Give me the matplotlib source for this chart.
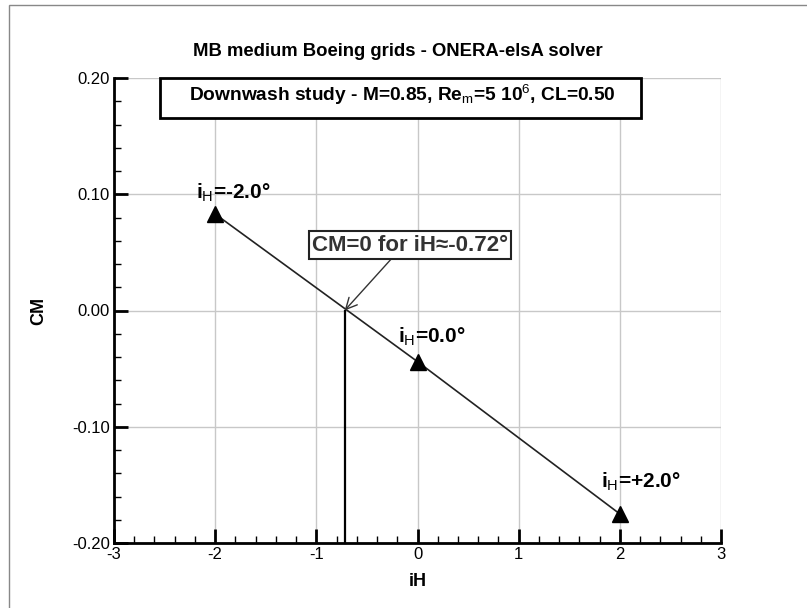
import matplotlib
matplotlib.use("Agg")
import matplotlib.pyplot as plt
from matplotlib.patches import Rectangle
from matplotlib.ticker import MultipleLocator, FormatStrFormatter

plt.rcParams['font.family'] = ['Liberation Sans', 'DejaVu Sans']
plt.rcParams['mathtext.fontset'] = 'custom'
plt.rcParams['mathtext.rm'] = 'Liberation Sans'
plt.rcParams['mathtext.bf'] = 'Liberation Sans:bold'
plt.rcParams['mathtext.it'] = 'Liberation Sans:italic'

# data
iH = [-2.0, 0.0, 2.0]
CM = [0.083, -0.044, -0.175]
iH_zero = -0.72
point_labels = ["i$_{\\rm H}$=-2.0°", "i$_{\\rm H}$=0.0°", "i$_{\\rm H}$=+2.0°"]
label_pos = [(-2.19, 0.0959), (-0.193, -0.028), (1.814, -0.1527)]

title = "MB medium Boeing grids - ONERA-elsA solver"
subtitle = "Downwash study - M=0.85, Re$_{\\rm m}$=5 10$^{\\rm 6}$, CL=0.50"

W, H = 807, 608
fig = plt.figure(figsize=(W / 100, H / 100), dpi=100)
L, R, T, B = 114, 721, 78, 543
ax = fig.add_axes([L / W, 1 - B / H, (R - L) / W, (B - T) / H])

ax.set_xlim(-3, 3)
ax.set_ylim(-0.2, 0.2)
ax.xaxis.set_major_locator(MultipleLocator(1))
ax.xaxis.set_minor_locator(MultipleLocator(0.2))
ax.yaxis.set_major_locator(MultipleLocator(0.1))
ax.yaxis.set_minor_locator(MultipleLocator(0.02))
ax.yaxis.set_major_formatter(FormatStrFormatter('%.2f'))
ax.xaxis.set_major_formatter(FormatStrFormatter('%d'))

ax.grid(True, which='major', color='#c8c8c8', lw=1.0, zorder=0)
ax.set_axisbelow(True)
for s in ['top', 'right']:
    ax.spines[s].set_visible(False)
for s in ['left', 'bottom']:
    ax.spines[s].set_linewidth(2.0)
ax.tick_params(which='major', direction='in', length=10, width=2, labelsize=12, pad=3)
ax.tick_params(which='minor', direction='in', length=5, width=1)

ax.plot(iH, CM, color='#222222', lw=1.2, marker='^', markersize=11,
        markerfacecolor='black', markeredgecolor='black', zorder=3)
ax.plot([iH_zero, iH_zero], [0, -0.2], color='black', lw=1.6, zorder=3, clip_on=False)

for lab, (x, y) in zip(point_labels, label_pos):
    ax.text(x, y, lab, fontsize=15, fontweight='bold', ha='left', va='baseline', zorder=4)

ax.annotate("CM=0 for iH≈-0.72°", xy=(iH_zero, 0.0), xytext=(-0.074, 0.0563),
            ha='center', va='center', fontsize=16, fontweight='bold', color='#333333',
            bbox=dict(boxstyle='square,pad=0.15', fc='white', ec='#222222', lw=1.5),
            arrowprops=dict(arrowstyle='->', color='#333333', lw=1.0,
                            relpos=(0.42, 0.0), shrinkA=0, shrinkB=0,
                            mutation_scale=20), zorder=5)

ax.set_xlabel("iH", fontsize=13, fontweight='bold', labelpad=8)
ax.set_ylabel("CM", fontsize=13, fontweight='bold', labelpad=18)

fig.text(398 / W, 1 - 52 / H, title, fontsize=13.3, fontweight='bold', ha='center', va='center')

# subtitle box
bx0, bx1, by0, by1 = 160, 641, 78, 118
fig.patches.append(Rectangle((bx0 / W, 1 - by1 / H), (bx1 - bx0) / W, (by1 - by0) / H,
                             transform=fig.transFigure, fc='white', ec='black', lw=2, zorder=6))
fig.text(402 / W, 1 - 95 / H, subtitle, fontsize=13.8, fontweight='bold',
         ha='center', va='center', zorder=7)

# outer frame
fig.patches.append(Rectangle((9 / W, -0.1), 2, 1 - 5 / H + 0.1, transform=fig.transFigure,
                             fc='none', ec='#888888', lw=1.0))

fig.savefig("out.png", dpi=100)
